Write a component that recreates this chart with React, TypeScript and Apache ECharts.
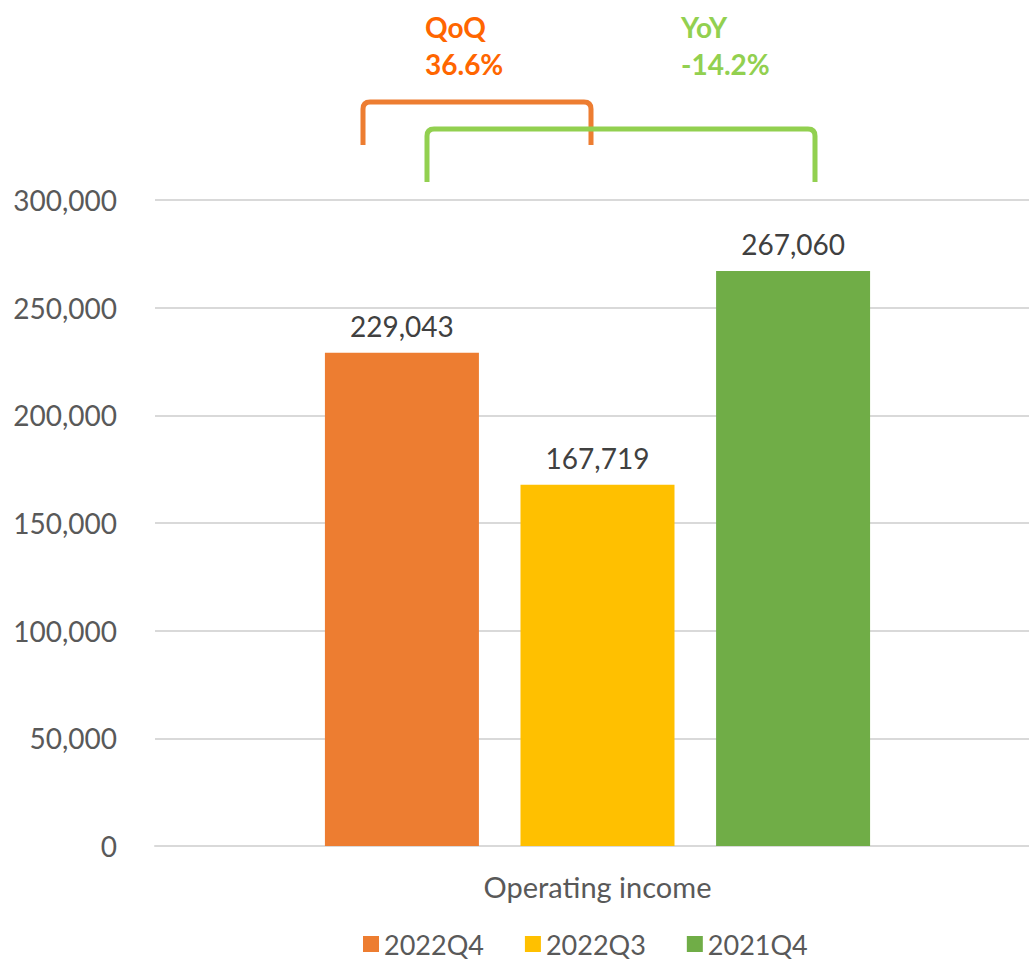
import React, { useEffect, useRef } from "react";
import * as echarts from "echarts";

const categories = ["Operating income"];
const seriesNames = ["2022Q4", "2022Q3", "2021Q4"];
const seriesValues = [[229043], [167719], [267060]];
const seriesColors = ["#ED7D31", "#FFC000", "#70AD47"];
const yTicks = { min: 0, max: 300000, interval: 50000 };
const annotations = [
  { title: "QoQ", value: "36.6%", color: "#FF6600", bracket: "#ED7D31" },
  { title: "YoY", value: "-14.2%", color: "#92D050", bracket: "#92D050" },
];

const FONT = "Lato, 'Noto Sans', sans-serif";

echarts.graphic.registerShape(
  "bracketQoQ",
  echarts.graphic.extendPath("M0 43 L0 7 Q0 0 7 0 L221 0 Q228 0 228 7 L228 43", {})
);
echarts.graphic.registerShape(
  "bracketYoY",
  echarts.graphic.extendPath("M0 53 L0 7 Q0 0 7 0 L381 0 Q388 0 388 7 L388 53", {})
);

export default function App() {
  const ref = useRef<HTMLDivElement>(null);
  useEffect(() => {
    if (!ref.current) return;
    const chart = echarts.init(ref.current, undefined, { renderer: "svg" });
    const annText = (x: number, y: number, text: string, color: string) => ({
      type: "text",
      x,
      y,
      style: { text, fill: color, font: `bold 28px ${FONT}`, verticalAlign: "middle" },
    });
    chart.setOption({
      animation: false,
      backgroundColor: "#ffffff",
      textStyle: { fontFamily: FONT },
      grid: { left: 155, right: -11, top: 200, bottom: 117, outerBoundsMode: "none" },
      legend: {
        data: seriesNames,
        left: 363,
        top: 930,
        padding: 0,
        itemWidth: 16,
        itemHeight: 16,
        itemGap: 41,
        itemTextGap: 8,
        icon: "rect",
        textStyle: { fontFamily: FONT, fontSize: 27, color: "#595959", lineHeight: 28 },
      },
      xAxis: {
        type: "category",
        data: categories,
        axisLine: { show: true, lineStyle: { color: "#D9D9D9", width: 2 } },
        axisTick: { show: false },
        axisLabel: { fontFamily: FONT, fontSize: 29, color: "#595959", margin: 26 },
      },
      yAxis: {
        type: "value",
        min: yTicks.min,
        max: yTicks.max,
        interval: yTicks.interval,
        axisLine: { show: false },
        axisTick: { show: false },
        splitLine: { lineStyle: { color: "#D9D9D9", width: 2 } },
        axisLabel: {
          fontFamily: FONT,
          fontSize: 28,
          color: "#595959",
          margin: 38,
          formatter: (v: number) => v.toLocaleString("en-US"),
        },
      },
      series: seriesNames.map((name, i) => ({
        name,
        type: "bar",
        data: seriesValues[i],
        barWidth: 154,
        barGap: "27%",
        itemStyle: { color: seriesColors[i] },
        label: {
          show: true,
          position: "top",
          distance: 13,
          fontFamily: FONT,
          fontSize: 28,
          color: "#404040",
          formatter: (p: any) => Number(p.value).toLocaleString("en-US"),
        },
      })),
      graphic: [
        {
          type: "bracketQoQ",
          x: 363,
          y: 102,
          style: { fill: "none", stroke: annotations[0].bracket, lineWidth: 5 },
        },
        {
          type: "bracketYoY",
          x: 427,
          y: 129,
          style: { fill: "none", stroke: annotations[1].bracket, lineWidth: 5 },
        },
        annText(425, 27, annotations[0].title, annotations[0].color),
        annText(425, 64, annotations[0].value, annotations[0].color),
        annText(681, 27, annotations[1].title, annotations[1].color),
        annText(681, 64, annotations[1].value, annotations[1].color),
      ],
    });
    return () => chart.dispose();
  }, []);
  return (
    <div
      ref={ref}
      style={{ position: "fixed", left: 0, top: 0, width: 1029, height: 963 }}
    />
  );
}
